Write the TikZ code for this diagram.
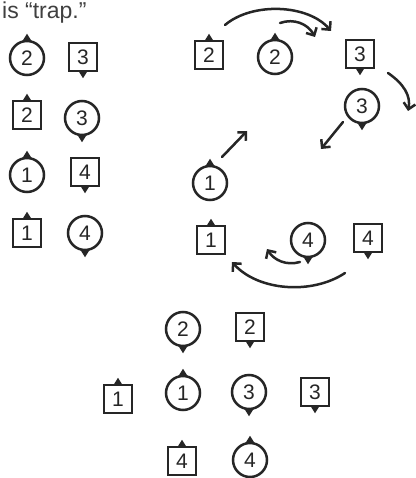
\documentclass[tikz,border=0pt]{standalone}
\usepackage{fontspec}
\setmainfont{Liberation Sans}
\usetikzlibrary{arrows.meta}
\tikzset{
  circ/.style={circle, draw, line width=2.5pt, minimum size=34pt, inner sep=0pt, font=\fontsize{21}{21}\selectfont},
  sq/.style={rectangle, draw, line width=2.5pt, minimum size=28pt, inner sep=0pt, font=\fontsize{21}{21}\selectfont},
  ptr/.style={fill=black!85},
  hand/.style={line width=2.5pt, line cap=round, draw=black!85, -{Straight Barb[length=6pt,width=12pt,line width=2.5pt]}},
}
\newcommand{\ptrup}[1]{\fill[ptr] (#1.north) ++(-5,2) -- ++(10,0) -- ++(-5,-8) -- cycle;}
\newcommand{\ptrdown}[1]{\fill[ptr] (#1.south) ++(-5,-2) -- ++(10,0) -- ++(-5,8) -- cycle;}
\begin{document}
\begin{tikzpicture}[x=1pt,y=-1pt, every node/.style={text=black!85}, draw=black!85]
\useasboundingbox[fill=white] (0,0) rectangle (415,478);
\node[anchor=base west, font=\fontsize{23}{23}\selectfont, text=black!75, inner sep=0pt] (cap) at (2,19) {is “trap.”};
% left column
\node[circ] (Lc2) at (27,58) {2};
\node[sq]   (Ls3) at (83,57) {3};
\node[sq]   (Ls2) at (27,115) {2};
\node[circ] (Lc3) at (82,118) {3};
\node[circ] (Lc1) at (27,175) {1};
\node[sq]   (Ls4) at (85,172) {4};
\node[sq]   (Ls1) at (27,233) {1};
\node[circ] (Lc4) at (85,233) {4};
% cycle
\node[sq]   (Rs2) at (209,55) {2};
\node[circ] (Rc2) at (275,57) {2};
\node[sq]   (Rs3) at (360,54) {3};
\node[circ] (Rc3) at (362,106) {3};
\node[circ] (Rc1) at (210,183) {1};
\node[sq]   (Rs1) at (211,240) {1};
\node[circ] (Rc4) at (308,240) {4};
\node[sq]   (Rs4) at (368,238) {4};
% bottom group
\node[circ] (Bc2) at (183,329) {2};
\node[sq]   (Bs2) at (250,327) {2};
\node[sq]   (Bs1) at (118,399) {1};
\node[circ] (Bc1) at (183,393) {1};
\node[circ] (Bc3) at (249,392) {3};
\node[sq]   (Bs3) at (315,392) {3};
\node[sq]   (Bs4) at (182,461) {4};
\node[circ] (Bc4) at (250,460) {4};
% pointers
\foreach \n in {Lc2,Ls2,Lc1,Ls1,Rs2,Rc2,Rc1,Rs1,Bs1,Bc1,Bs4,Bc4} {\ptrup{\n}}
\foreach \n in {Ls3,Lc3,Ls4,Lc4,Rs3,Rc3,Rc4,Rs4,Bc2,Bs2,Bc3,Bs3} {\ptrdown{\n}}
% arrow end points
\coordinate (a1s) at (225,25);  \coordinate (a1e) at (331,31);
\coordinate (a2s) at (280,23);  \coordinate (a2e) at (315,37);
\coordinate (a3s) at (388,73);  \coordinate (a3e) at (408,111);
\coordinate (a4s) at (343,122); \coordinate (a4e) at (321,149);
\coordinate (a5s) at (222,157); \coordinate (a5e) at (247,131);
\coordinate (a6s) at (300,262); \coordinate (a6e) at (267,249);
\coordinate (a7s) at (345,273); \coordinate (a7e) at (232,262);
\draw[hand] (a1s) .. controls (252,2) and (308,4) .. (a1e);
\draw[hand] (a2s) .. controls (294,18) and (308,24) .. (a2e);
\draw[hand] (a3s) .. controls (404,84) and (411,96) .. (a3e);
\draw[hand] (a4s) -- (a4e);
\draw[hand] (a5s) -- (a5e);
\draw[hand] (a6s) .. controls (286,266) and (274,260) .. (a6e);
\draw[hand] (a7s) .. controls (312,295) and (258,291) .. (a7e);
\end{tikzpicture}
\end{document}
